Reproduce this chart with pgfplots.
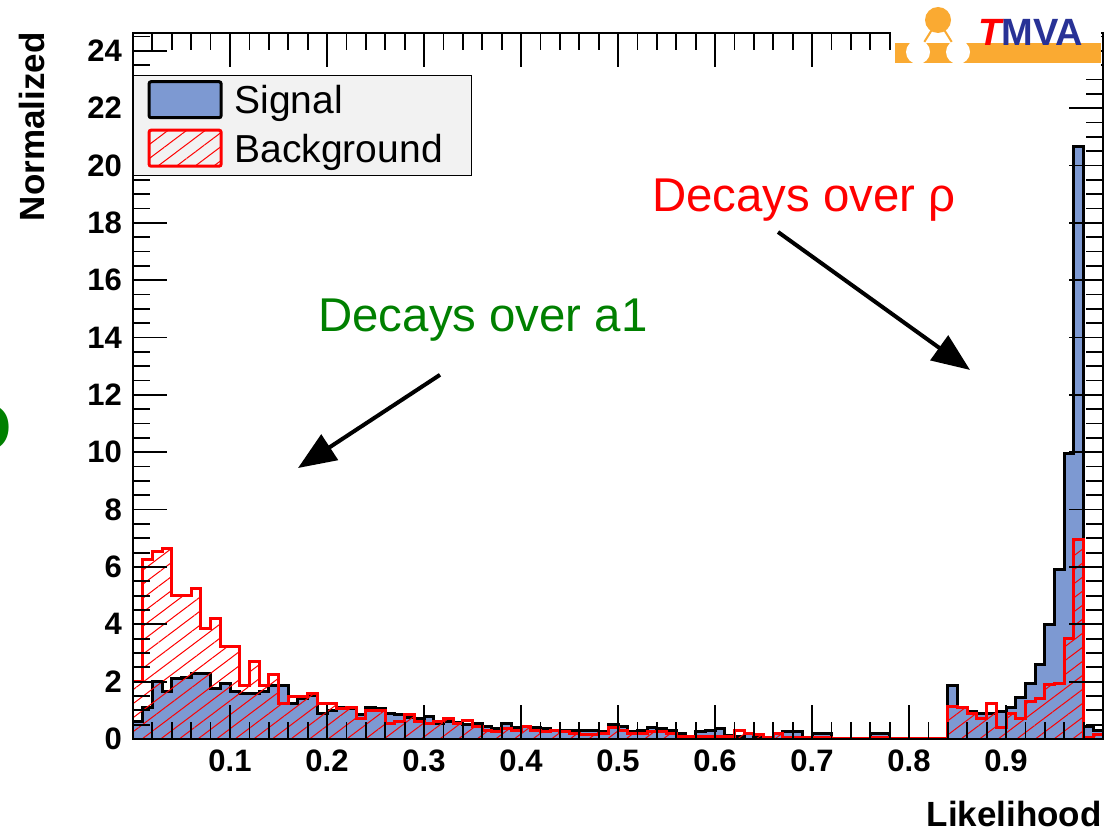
\documentclass[border=0pt]{standalone}
\usepackage{fontspec}
\setmainfont{Liberation Sans}
\usepackage{pgfplots}
\pgfplotsset{compat=1.18}
\usepackage{pgfplotstable}
\usetikzlibrary{patterns.meta,arrows.meta}
\definecolor{sigblue}{RGB}{125,153,210}
\definecolor{leggray}{RGB}{242,242,242}
\definecolor{decgreen}{RGB}{0,128,0}
\definecolor{tmvaorange}{RGB}{250,170,50}
\definecolor{tmvablue}{RGB}{40,50,150}

\pgfplotstableread{
x s b
0.00 0.60 2.00
0.01 1.10 6.27
0.02 2.00 6.53
0.03 1.65 6.66
0.04 2.10 5.00
0.05 2.15 5.00
0.06 2.30 5.26
0.07 2.30 3.84
0.08 1.75 4.21
0.09 1.95 3.22
0.10 1.65 3.22
0.11 1.57 1.85
0.12 1.57 2.72
0.13 1.65 1.88
0.14 1.88 2.26
0.15 1.88 1.24
0.16 1.25 1.47
0.17 1.43 1.47
0.18 1.50 1.60
0.19 0.90 1.25
0.20 1.00 1.25
0.21 1.10 1.05
0.22 1.05 1.10
0.23 0.85 0.70
0.24 1.10 1.00
0.25 1.05 1.00
0.26 0.90 0.55
0.27 0.85 0.60
0.28 0.75 0.85
0.29 0.72 0.60
0.30 0.80 0.55
0.31 0.55 0.60
0.32 0.60 0.72
0.33 0.58 0.55
0.34 0.52 0.65
0.35 0.55 0.45
0.36 0.45 0.30
0.37 0.35 0.25
0.38 0.55 0.35
0.39 0.40 0.30
0.40 0.45 0.45
0.41 0.40 0.30
0.42 0.35 0.25
0.43 0.30 0.30
0.44 0.30 0.25
0.45 0.30 0.20
0.46 0.30 0.15
0.47 0.30 0.15
0.48 0.25 0.20
0.49 0.50 0.40
0.50 0.45 0.30
0.51 0.25 0.20
0.52 0.30 0.20
0.53 0.40 0.25
0.54 0.35 0.25
0.55 0.30 0.20
0.56 0.20 0.10
0.57 0.10 0.10
0.58 0.25 0.10
0.59 0.30 0.10
0.60 0.35 0.10
0.61 0.12 0.10
0.62 0.10 0.28
0.63 0.20 0.20
0.64 0.05 0.15
0.65 0.05 0.05
0.66 0.20 0.20
0.67 0.25 0.05
0.68 0.25 0.05
0.69 0.05 0.05
0.70 0.20 0.05
0.71 0.20 0.05
0.72 0.00 0.03
0.73 0.00 0.03
0.74 0.00 0.03
0.75 0.00 0.03
0.76 0.20 0.05
0.77 0.20 0.05
0.78 0.00 0.03
0.79 0.00 0.03
0.80 0.00 0.03
0.81 0.00 0.03
0.82 0.00 0.03
0.83 0.00 0.03
0.84 1.85 1.15
0.85 1.10 1.10
0.86 0.95 0.90
0.87 0.90 0.70
0.88 0.90 1.25
0.89 0.95 0.40
0.90 1.10 0.90
0.91 1.45 0.70
0.92 1.95 1.30
0.93 2.60 1.40
0.94 4.00 1.90
0.95 5.90 1.95
0.96 9.95 3.50
0.97 20.65 6.95
0.98 0.45 0.07
0.99 0.30 0.15
1.00 0.30 0.15
}\histdata

\begin{document}
\begin{tikzpicture}
\begin{axis}[
  width=485pt, height=353pt, scale only axis,
  xmin=0, xmax=1, ymin=0, ymax=24.62,
  axis on top,
  tick align=inside, tick pos=both,
  xtick={0,0.1,0.2,0.3,0.4,0.5,0.6,0.7,0.8,0.9,1},
  xticklabels={,0.1,0.2,0.3,0.4,0.5,0.6,0.7,0.8,0.9,},
  minor xtick={0,0.02,...,1},
  ytick={0,2,...,24},
  minor ytick={0,0.5,...,24.5},
  major tick length=17pt, minor tick length=8.5pt,
  tick style={black, line width=0.9pt},
  axis line style={line width=0.9pt},
  /pgf/number format/assume math mode=true,
  tick label style={font=\bfseries\fontsize{15.5}{16}\selectfont},
  yticklabel style={xshift=-2pt},
  xticklabel style={yshift=-2pt},
  xlabel={Likelihood},
  ylabel={Normalized},
  xlabel style={at={(axis description cs:0.999,-0.1246)}, anchor=base east, inner sep=0pt, font=\bfseries\fontsize{17.5}{18}\selectfont},
  ylabel style={at={(axis description cs:-0.1041,1.0014)}, anchor=east, inner sep=0pt, font=\bfseries\fontsize{17.5}{18}\selectfont},
  legend cell align=left,
  legend style={at={(0,1)}, anchor=north west, yshift=-21pt,
    draw=black, line width=0.6pt, fill=leggray,
    font=\fontsize{19.5}{23}\selectfont,
    inner xsep=7pt, inner ysep=2.3pt, row sep=3pt,
    nodes={inner sep=0pt, text height=14.5pt, text depth=4.5pt, text width=111.5pt, yshift=3.5pt},
    /tikz/every odd column/.append style={column sep=6pt}},
]
\addplot[const plot, draw=black, line width=1.5pt, fill=sigblue,
  legend image code/.code={\draw[line width=1.5pt, draw=black, fill=sigblue, rounded corners=1pt] (0pt,-3.5pt) rectangle (36pt,14.5pt);}]
  table[x=x, y=s] {\histdata} \closedcycle;
\addlegendentry{Signal}
\addplot[const plot, draw=red, line width=1.5pt,
  pattern={Lines[angle=37, distance=5.6pt, line width=0.5pt]}, pattern color=red,
  legend image code/.code={\draw[line width=1.5pt, draw=red, pattern={Lines[angle=37, distance=5.6pt, line width=0.5pt]}, pattern color=red, rounded corners=1pt] (0pt,-3.5pt) rectangle (36pt,14.5pt);}]
  table[x=x, y=b] {\histdata} \closedcycle;
\addlegendentry{Background}

\node[anchor=base west, inner sep=0pt, text=decgreen, font=\fontsize{23.7}{28}\selectfont] at (axis cs:0.1907,14.2) {Decays over a1};
\node[anchor=base west, inner sep=0pt, text=red, font=\fontsize{23.7}{28}\selectfont] at (axis cs:0.535,18.38) {Decays over ρ};
\draw[line width=2pt, -{Triangle[length=19pt, width=15pt]}] (axis cs:0.3165,12.70) -- (axis cs:0.1701,9.45);
\draw[line width=2pt, -{Triangle[length=19pt, width=15pt]}] (axis cs:0.665,17.68) -- (axis cs:0.8629,12.87);
\end{axis}

% TMVA logo
\fill[white] (379pt,336pt) rectangle (484pt,372pt);
\fill[tmvaorange] (381pt,338pt) rectangle (484pt,348pt);
\draw[tmvaorange, line width=1pt] (392.5pt,343.5pt) -- (402.5pt,359.5pt) -- (412.5pt,343.5pt);
\fill[tmvaorange] (402.5pt,359.5pt) circle (6.5pt);
\fill[white] (392.5pt,343.5pt) circle (6pt);
\fill[white] (412.5pt,343.5pt) circle (6pt);
\node[anchor=base west, inner sep=0pt, font=\bfseries\fontsize{19}{19}\selectfont] at (422.5pt,346.5pt) {\textcolor{red}{\itshape T}\textcolor{tmvablue}{MVA}};

% cropped green glyph at the left edge
\node[anchor=east, inner sep=0pt, text=decgreen, font=\bfseries\fontsize{33}{33}\selectfont] at (-60.5pt,155.5pt) {O};

\pgfresetboundingbox
\path[use as bounding box] (-66.5pt,-46.5pt) rectangle (487.5pt,369.5pt);
\end{tikzpicture}
\end{document}
